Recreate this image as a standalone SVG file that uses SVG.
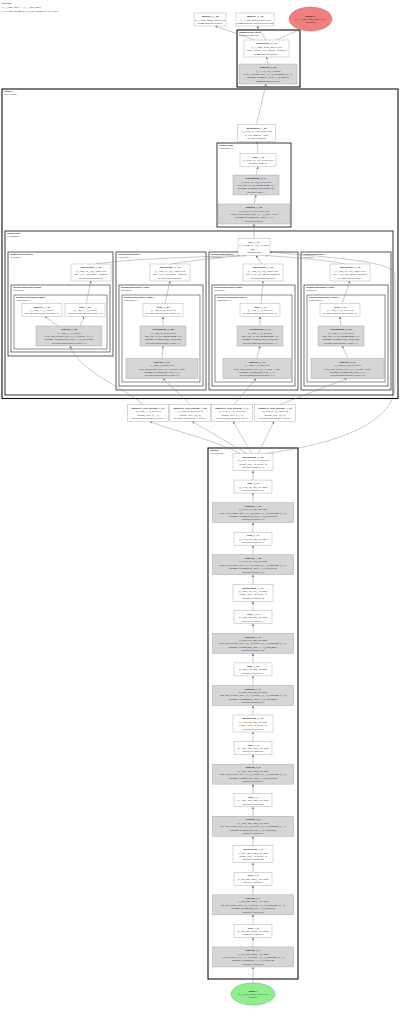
<svg xmlns="http://www.w3.org/2000/svg" width="400" height="1011" viewBox="0 0 400 1011">
<defs>
<marker id="a" viewBox="0 0 6 6" refX="6" refY="3" markerWidth="2.4" markerHeight="2.4" markerUnits="userSpaceOnUse" orient="auto"><path d="M0,0L6,3L0,6z" fill="#6e6e6e"/></marker>
</defs>
<style>
text{font-family:"Liberation Serif","DejaVu Serif",serif;font-size:2.9px;fill:#1a1a1a;text-anchor:middle}
.b{font-weight:bold}
.hd{text-anchor:start;font-size:2.8px}
.w rect{fill:#fff;stroke:#8f8f8f;stroke-width:.35}
.g rect{fill:#d6d6d6;stroke:#8f8f8f;stroke-width:.35}
.cl rect{fill:none}
.cl text{text-anchor:start;font-size:2.6px}
.c1 rect{stroke:#111;stroke-width:1.1}
.c2 rect{stroke:#222;stroke-width:.9}
.c3 rect{stroke:#333;stroke-width:.8}
.c4 rect{stroke:#3a3a3a;stroke-width:.7}
.c5 rect{stroke:#444;stroke-width:.6}
.e path{fill:none;stroke:#7a7a7a;stroke-width:.4;marker-end:url(#a)}
</style>
<rect width="400" height="1011" fill="#fff"/>
<text class="hd" x="2" y="4.2"><tspan class="b">PSPNet</tspan><tspan x="2" dy="3.8">(1, 3, 256, 256) → (1, 1, 256, 256)</tspan><tspan x="2" dy="3.8">9,193,921 params (9,193,921 trainable), 35.1 MB</tspan></text>

<!-- clusters -->
<g id="cluster_segmentation_head" class="cl c1"><rect x="237" y="30" width="63" height="57"/><text x="239" y="33.2"><tspan class="b">segmentation_head</tspan><tspan x="239" dy="3">SegmentationHead</tspan></text></g>
<g id="cluster_decoder" class="cl c1"><rect x="2" y="89" width="396" height="309.5"/><text x="4" y="92.2"><tspan class="b">decoder</tspan><tspan x="4" dy="3">PSPDecoder</tspan></text></g>
<g id="cluster_decoder_conv" class="cl c2"><rect x="217" y="143" width="74" height="84"/><text x="219" y="146.2"><tspan class="b">decoder.conv</tspan><tspan x="219" dy="3">Conv2dReLU</tspan></text></g>
<g id="cluster_decoder_psp" class="cl c2"><rect x="5" y="231" width="388" height="164"/><text x="7" y="234.2"><tspan class="b">decoder.psp</tspan><tspan x="7" dy="3">PSPModule</tspan></text></g>
<g id="cluster_b0" class="cl c3"><rect x="8" y="252" width="105" height="104"/><text x="10" y="255.2"><tspan class="b">decoder.psp.blocks.0</tspan><tspan x="10" dy="3">PSPBlock</tspan></text></g>
<g id="cluster_b1" class="cl c3"><rect x="116" y="252" width="90" height="138"/><text x="118" y="255.2"><tspan class="b">decoder.psp.blocks.1</tspan><tspan x="118" dy="3">PSPBlock</tspan></text></g>
<g id="cluster_b2" class="cl c3"><rect x="209" y="252" width="89" height="138"/><text x="211" y="255.2"><tspan class="b">decoder.psp.blocks.2</tspan><tspan x="211" dy="3">PSPBlock</tspan></text></g>
<g id="cluster_b3" class="cl c3"><rect x="301" y="252" width="90" height="138"/><text x="303" y="255.2"><tspan class="b">decoder.psp.blocks.3</tspan><tspan x="303" dy="3">PSPBlock</tspan></text></g>
<g id="cluster_p0" class="cl c4"><rect x="11" y="285" width="99" height="67"/><text x="13" y="288.2"><tspan class="b">decoder.psp.blocks.0.pool</tspan><tspan x="13" dy="3">Sequential</tspan></text></g>
<g id="cluster_p1" class="cl c4"><rect x="119" y="285" width="84" height="101"/><text x="121" y="288.2"><tspan class="b">decoder.psp.blocks.1.pool</tspan><tspan x="121" dy="3">Sequential</tspan></text></g>
<g id="cluster_p2" class="cl c4"><rect x="212" y="285" width="83" height="101"/><text x="214" y="288.2"><tspan class="b">decoder.psp.blocks.2.pool</tspan><tspan x="214" dy="3">Sequential</tspan></text></g>
<g id="cluster_p3" class="cl c4"><rect x="304" y="285" width="84" height="101"/><text x="306" y="288.2"><tspan class="b">decoder.psp.blocks.3.pool</tspan><tspan x="306" dy="3">Sequential</tspan></text></g>
<g id="cluster_q0" class="cl c5"><rect x="14" y="295" width="93" height="54"/><text x="16" y="298.2"><tspan class="b">decoder.psp.blocks.0.pool.1</tspan><tspan x="16" dy="3">Conv2dReLU</tspan></text></g>
<g id="cluster_q1" class="cl c5"><rect x="122" y="295" width="78" height="87"/><text x="124" y="298.2"><tspan class="b">decoder.psp.blocks.1.pool.1</tspan><tspan x="124" dy="3">Conv2dReLU</tspan></text></g>
<g id="cluster_q2" class="cl c5"><rect x="215" y="295" width="77" height="87"/><text x="217" y="298.2"><tspan class="b">decoder.psp.blocks.2.pool.1</tspan><tspan x="217" dy="3">Conv2dReLU</tspan></text></g>
<g id="cluster_q3" class="cl c5"><rect x="307" y="295" width="78" height="87"/><text x="309" y="298.2"><tspan class="b">decoder.psp.blocks.3.pool.1</tspan><tspan x="309" dy="3">Conv2dReLU</tspan></text></g>
<g id="cluster_encoder" class="cl c1"><rect x="208" y="448" width="90" height="531"/><text x="210" y="451.2"><tspan class="b">encoder</tspan><tspan x="210" dy="3">VGGEncoder</tspan></text></g>

<!-- connectors -->
<g id="edges" class="e">
<path d="M255,40L215,26"/>
<path d="M266,40L257,26"/>
<path d="M276,40L300,29.6"/>
<path d="M268,64L266.5,57"/>
<path d="M256.5,124.5L266,84"/>
<path d="M258,153.5L257,141.5"/>
<path d="M256,175L258,166.5"/>
<path d="M254,204L256,195"/>
<path d="M254,238.5V224"/>
<path d="M95,264C140,258 200,257 240,255.5"/>
<path d="M172,264C200,259 230,257 246,255.5"/>
<path d="M262,264L256,255.5"/>
<path d="M345,264C320,259 285,257 265,255.5"/>
<path d="M86,303.5L91,281"/>
<path d="M58,326L45,316.5"/>
<path d="M80,326L84,316.5"/>
<path d="M165,303.5L170,281"/>
<path d="M163,326V316.5"/>
<path d="M162,358.5L163,346"/>
<path d="M261,303.5L263,281"/>
<path d="M260,326V316.5"/>
<path d="M257,358.5L260,346"/>
<path d="M342,303.5L350,281"/>
<path d="M341,326L340,316.5"/>
<path d="M348,358.5L342,346"/>
<path d="M143,404.5C120,385 80,372 70,346"/>
<path d="M190,404.5L163,378.5"/>
<path d="M234,404.5L256,378.5"/>
<path d="M280,404.5L347,378.5"/>
<path d="M240,453.5C215,440 170,430 150,421.5"/>
<path d="M247,453.5L192,421.5"/>
<path d="M252,453.5L233,421.5"/>
<path d="M258,453.5L274,421.5"/>
<path d="M266,453.5C330,445 395,425 395,385L395,275C395,260 320,257 270,252"/>
<path d="M253,480.05V470.5"/>
<path d="M253,502.6V493.05"/>
<path d="M253,532.15V522.6"/>
<path d="M253,554.7V545.15"/>
<path d="M253,584.25V574.7"/>
<path d="M253,610.8V601.25"/>
<path d="M253,633.35V623.8"/>
<path d="M253,662.9V653.35"/>
<path d="M253,685.45V675.9"/>
<path d="M253,715V705.45"/>
<path d="M253,741.55V732"/>
<path d="M253,764.1V754.55"/>
<path d="M253,793.65V784.1"/>
<path d="M253,816.2V806.65"/>
<path d="M253,845.75V836.2"/>
<path d="M253,872.3V862.75"/>
<path d="M253,894.85V885.3"/>
<path d="M253,924.4V914.85"/>
<path d="M253,946.95V937.4"/>
<path d="M253,983V966.95"/>
</g>

<!-- top nodes -->
<g id="identity_1_48" class="w"><rect x="194" y="13" width="32" height="13"/><text x="210" y="17.1"><tspan class="b">identity_1_48</tspan><tspan x="210" dy="3.4">(1, 1, 256, 256), 256.0 KB</tspan><tspan x="210" dy="3.4">segmentation_head.2</tspan></text></g>
<g id="identity_1_49" class="w"><rect x="236" y="13" width="38" height="13"/><text x="255" y="17.1"><tspan class="b">identity_1_49</tspan><tspan x="255" dy="3.4">(1, 1, 256, 256), 256.0 KB</tspan><tspan x="255" dy="3.4">segmentation_head.2.activation</tspan></text></g>
<g id="output-1"><ellipse cx="310.5" cy="19" rx="21.5" ry="12" fill="#f08080" stroke="#c05050" stroke-width=".4"/><text x="310.5" y="16.6"><tspan class="b">output-1</tspan><tspan x="310.5" dy="3.4">(1, 1, 256, 256), 256.0 KB</tspan><tspan x="310.5" dy="3.4">(output)</tspan></text></g>
<g id="interpolate_1_47" class="w"><rect x="244" y="40" width="45" height="17"/><text x="266.5" y="44.4"><tspan class="b">interpolate_1_47</tspan><tspan x="266.5" dy="3.4">(1, 1, 256, 256), 256.0 KB</tspan><tspan x="266.5" dy="3.4">scale_factor=16.0, mode=bilinear</tspan><tspan x="266.5" dy="3.4">segmentation_head.1</tspan></text></g>
<g id="conv2d_1_46" class="g"><rect x="239" y="64" width="58" height="20"/><text x="268" y="68.2"><tspan class="b">conv2d_1_46</tspan><tspan x="268" dy="3.4">(1, 1, 16, 16), 1.0 KB</tspan><tspan x="268" dy="3.4">512, 1, kernel_size=(3, 3), padding=(1, 1)</tspan><tspan x="268" dy="3.4">params: weight(1, 512, 3, 3), bias(1)</tspan><tspan x="268" dy="3.4">segmentation_head.0</tspan></text></g>

<!-- decoder nodes -->
<g id="dropout2d_1_45" class="w"><rect x="237.5" y="124.5" width="38" height="17"/><text x="256.5" y="128.9"><tspan class="b">dropout2d_1_45</tspan><tspan x="256.5" dy="3.4">(1, 512, 16, 16), 512.0 KB</tspan><tspan x="256.5" dy="3.4">p=0.2, inplace=True</tspan><tspan x="256.5" dy="3.4">decoder.dropout</tspan></text></g>
<g id="relu_1_44" class="w"><rect x="240" y="153.5" width="36" height="13"/><text x="258" y="157.6"><tspan class="b">relu_1_44</tspan><tspan x="258" dy="3.4">(1, 512, 16, 16), 512.0 KB</tspan><tspan x="258" dy="3.4">decoder.conv.2</tspan></text></g>
<g id="batchnorm_1_43" class="g"><rect x="233" y="175" width="46" height="20"/><text x="256" y="179.2"><tspan class="b">batchnorm_1_43</tspan><tspan x="256" dy="3.4">(1, 512, 16, 16), 512.0 KB</tspan><tspan x="256" dy="3.4">512, eps=1e-05, momentum=0.1</tspan><tspan x="256" dy="3.4">params: weight(512), bias(512)</tspan><tspan x="256" dy="3.4">decoder.conv.1</tspan></text></g>
<g id="conv2d_1_42" class="g"><rect x="218" y="204" width="72" height="20"/><text x="254" y="208.2"><tspan class="b">conv2d_1_42</tspan><tspan x="254" dy="3.4">(1, 512, 16, 16), 512.0 KB</tspan><tspan x="254" dy="3.4">1024, 512, kernel_size=(1, 1), bias=False</tspan><tspan x="254" dy="3.4">params: weight(512, 1024, 1, 1)</tspan><tspan x="254" dy="3.4">decoder.conv.0</tspan></text></g>
<g id="cat_1_41" class="w"><rect x="238" y="238.5" width="32" height="17"/><text x="254" y="242.9"><tspan class="b">cat_1_41</tspan><tspan x="254" dy="3.4">(1, 1024, 16, 16), 1.0 MB</tspan><tspan x="254" dy="3.4">dim=1</tspan><tspan x="254" dy="3.4">decoder.psp</tspan></text></g>

<!-- interpolates -->
<g id="interpolate_1_25" class="w"><rect x="71" y="264" width="40" height="17"/><text x="91" y="268.4"><tspan class="b">interpolate_1_25</tspan><tspan x="91" dy="3.4">(1, 128, 16, 16), 128.0 KB</tspan><tspan x="91" dy="3.4">size=(16, 16), mode=bilinear</tspan><tspan x="91" dy="3.4">decoder.psp.blocks.0</tspan></text></g>
<g id="interpolate_1_30" class="w"><rect x="150" y="264" width="40" height="17"/><text x="170" y="268.4"><tspan class="b">interpolate_1_30</tspan><tspan x="170" dy="3.4">(1, 128, 16, 16), 128.0 KB</tspan><tspan x="170" dy="3.4">size=(16, 16), mode=bilinear</tspan><tspan x="170" dy="3.4">decoder.psp.blocks.1</tspan></text></g>
<g id="interpolate_1_35" class="w"><rect x="243" y="264" width="40" height="17"/><text x="263" y="268.4"><tspan class="b">interpolate_1_35</tspan><tspan x="263" dy="3.4">(1, 128, 16, 16), 128.0 KB</tspan><tspan x="263" dy="3.4">size=(16, 16), mode=bilinear</tspan><tspan x="263" dy="3.4">decoder.psp.blocks.2</tspan></text></g>
<g id="interpolate_1_40" class="w"><rect x="330" y="264" width="40" height="17"/><text x="350" y="268.4"><tspan class="b">interpolate_1_40</tspan><tspan x="350" dy="3.4">(1, 128, 16, 16), 128.0 KB</tspan><tspan x="350" dy="3.4">size=(16, 16), mode=bilinear</tspan><tspan x="350" dy="3.4">decoder.psp.blocks.3</tspan></text></g>

<!-- relu row -->
<g id="identity_1_23" class="w"><rect x="22" y="303.5" width="40" height="13"/><text x="42" y="307.6"><tspan class="b">identity_1_23</tspan><tspan x="42" dy="3.4">(1, 128, 1, 1), 512 B</tspan><tspan x="42" dy="3.4">decoder.psp.blocks.0.pool.1.1</tspan></text></g>
<g id="relu_1_24" class="w"><rect x="65" y="303.5" width="40" height="13"/><text x="85" y="307.6"><tspan class="b">relu_1_24</tspan><tspan x="85" dy="3.4">(1, 128, 1, 1), 512 B</tspan><tspan x="85" dy="3.4">decoder.psp.blocks.0.pool.1.2</tspan></text></g>
<g id="relu_1_29" class="w"><rect x="143" y="303.5" width="40" height="13"/><text x="163" y="307.6"><tspan class="b">relu_1_29</tspan><tspan x="163" dy="3.4">(1, 128, 2, 2), 2.0 KB</tspan><tspan x="163" dy="3.4">decoder.psp.blocks.1.pool.1.2</tspan></text></g>
<g id="relu_1_34" class="w"><rect x="240" y="303.5" width="40" height="13"/><text x="260" y="307.6"><tspan class="b">relu_1_34</tspan><tspan x="260" dy="3.4">(1, 128, 3, 3), 4.5 KB</tspan><tspan x="260" dy="3.4">decoder.psp.blocks.2.pool.1.2</tspan></text></g>
<g id="relu_1_39" class="w"><rect x="320" y="303.5" width="40" height="13"/><text x="340" y="307.6"><tspan class="b">relu_1_39</tspan><tspan x="340" dy="3.4">(1, 128, 6, 6), 18.0 KB</tspan><tspan x="340" dy="3.4">decoder.psp.blocks.3.pool.1.2</tspan></text></g>

<!-- bn row -->
<g id="conv2d_1_22" class="g"><rect x="36" y="326" width="66" height="20"/><text x="69" y="330.2"><tspan class="b">conv2d_1_22</tspan><tspan x="69" dy="3.4">(1, 128, 1, 1), 512 B</tspan><tspan x="69" dy="3.4">512, 128, kernel_size=(1, 1), stride=(1, 1)</tspan><tspan x="69" dy="3.4">params: weight(128, 512, 1, 1), bias(128)</tspan><tspan x="69" dy="3.4">decoder.psp.blocks.0.pool.1.0</tspan></text></g>
<g id="batchnorm_1_28" class="g"><rect x="140" y="326" width="46" height="20"/><text x="163" y="330.2"><tspan class="b">batchnorm_1_28</tspan><tspan x="163" dy="3.4">(1, 128, 2, 2), 2.0 KB</tspan><tspan x="163" dy="3.4">128, eps=1e-05, momentum=0.1</tspan><tspan x="163" dy="3.4">params: weight(128), bias(128)</tspan><tspan x="163" dy="3.4">decoder.psp.blocks.1.pool.1.1</tspan></text></g>
<g id="batchnorm_1_33" class="g"><rect x="237" y="326" width="46" height="20"/><text x="260" y="330.2"><tspan class="b">batchnorm_1_33</tspan><tspan x="260" dy="3.4">(1, 128, 3, 3), 4.5 KB</tspan><tspan x="260" dy="3.4">128, eps=1e-05, momentum=0.1</tspan><tspan x="260" dy="3.4">params: weight(128), bias(128)</tspan><tspan x="260" dy="3.4">decoder.psp.blocks.2.pool.1.1</tspan></text></g>
<g id="batchnorm_1_38" class="g"><rect x="318" y="326" width="46" height="20"/><text x="341" y="330.2"><tspan class="b">batchnorm_1_38</tspan><tspan x="341" dy="3.4">(1, 128, 6, 6), 18.0 KB</tspan><tspan x="341" dy="3.4">128, eps=1e-05, momentum=0.1</tspan><tspan x="341" dy="3.4">params: weight(128), bias(128)</tspan><tspan x="341" dy="3.4">decoder.psp.blocks.3.pool.1.1</tspan></text></g>

<!-- conv row -->
<g id="conv2d_1_27" class="g"><rect x="126" y="358.5" width="72" height="20"/><text x="162" y="362.7"><tspan class="b">conv2d_1_27</tspan><tspan x="162" dy="3.4">(1, 128, 2, 2), 2.0 KB</tspan><tspan x="162" dy="3.4">512, 128, kernel_size=(1, 1), bias=False</tspan><tspan x="162" dy="3.4">params: weight(128, 512, 1, 1)</tspan><tspan x="162" dy="3.4">decoder.psp.blocks.1.pool.1.0</tspan></text></g>
<g id="conv2d_1_32" class="g"><rect x="223" y="358.5" width="68" height="20"/><text x="257" y="362.7"><tspan class="b">conv2d_1_32</tspan><tspan x="257" dy="3.4">(1, 128, 3, 3), 4.5 KB</tspan><tspan x="257" dy="3.4">512, 128, kernel_size=(1, 1), bias=False</tspan><tspan x="257" dy="3.4">params: weight(128, 512, 1, 1)</tspan><tspan x="257" dy="3.4">decoder.psp.blocks.2.pool.1.0</tspan></text></g>
<g id="conv2d_1_37" class="g"><rect x="311" y="358.5" width="73" height="20"/><text x="347.5" y="362.7"><tspan class="b">conv2d_1_37</tspan><tspan x="347.5" dy="3.4">(1, 128, 6, 6), 18.0 KB</tspan><tspan x="347.5" dy="3.4">512, 128, kernel_size=(1, 1), bias=False</tspan><tspan x="347.5" dy="3.4">params: weight(128, 512, 1, 1)</tspan><tspan x="347.5" dy="3.4">decoder.psp.blocks.3.pool.1.0</tspan></text></g>

<!-- adaptive pools -->
<g id="adaptive_avg_pool2d_1_21" class="w"><rect x="127.5" y="404.5" width="41" height="17"/><text x="148" y="408.9"><tspan class="b">adaptive_avg_pool2d_1_21</tspan><tspan x="148" dy="3.4">(1, 512, 1, 1), 2.0 KB</tspan><tspan x="148" dy="3.4">output_size=(1, 1)</tspan><tspan x="148" dy="3.4">decoder.psp.blocks.0.pool.0</tspan></text></g>
<g id="adaptive_avg_pool2d_1_26" class="w"><rect x="169.5" y="404.5" width="41" height="17"/><text x="190" y="408.9"><tspan class="b">adaptive_avg_pool2d_1_26</tspan><tspan x="190" dy="3.4">(1, 512, 2, 2), 8.0 KB</tspan><tspan x="190" dy="3.4">output_size=(2, 2)</tspan><tspan x="190" dy="3.4">decoder.psp.blocks.1.pool.0</tspan></text></g>
<g id="adaptive_avg_pool2d_1_31" class="w"><rect x="211.5" y="404.5" width="41" height="17"/><text x="232" y="408.9"><tspan class="b">adaptive_avg_pool2d_1_31</tspan><tspan x="232" dy="3.4">(1, 512, 3, 3), 18.0 KB</tspan><tspan x="232" dy="3.4">output_size=(3, 3)</tspan><tspan x="232" dy="3.4">decoder.psp.blocks.2.pool.0</tspan></text></g>
<g id="adaptive_avg_pool2d_1_36" class="w"><rect x="254.5" y="404.5" width="41" height="17"/><text x="275" y="408.9"><tspan class="b">adaptive_avg_pool2d_1_36</tspan><tspan x="275" dy="3.4">(1, 512, 6, 6), 72.0 KB</tspan><tspan x="275" dy="3.4">output_size=(6, 6)</tspan><tspan x="275" dy="3.4">decoder.psp.blocks.3.pool.0</tspan></text></g>

<!-- encoder nodes -->
<g id="maxpool2d_1_20" class="w"><rect x="233" y="453.5" width="40" height="17"/><text x="253" y="457.9"><tspan class="b">maxpool2d_1_20</tspan><tspan x="253" dy="3.4">(1, 512, 16, 16), 512.0 KB</tspan><tspan x="253" dy="3.4">kernel_size=2, stride=2</tspan><tspan x="253" dy="3.4">encoder.features.19</tspan></text></g>
<g id="relu_1_19" class="w"><rect x="234" y="480.05" width="38" height="13"/><text x="253" y="484.15"><tspan class="b">relu_1_19</tspan><tspan x="253" dy="3.4">(1, 512, 32, 32), 2.0 MB</tspan><tspan x="253" dy="3.4">encoder.features.18</tspan></text></g>
<g id="conv2d_1_18" class="g"><rect x="212.5" y="502.6" width="81" height="20"/><text x="253" y="506.8"><tspan class="b">conv2d_1_18</tspan><tspan x="253" dy="3.4">(1, 512, 32, 32), 2.0 MB</tspan><tspan x="253" dy="3.4">512, 512, kernel_size=(3, 3), stride=(1, 1), padding=(1, 1)</tspan><tspan x="253" dy="3.4">params: weight(512, 512, 3, 3), bias(512)</tspan><tspan x="253" dy="3.4">encoder.features.17</tspan></text></g>
<g id="relu_1_17" class="w"><rect x="234" y="532.15" width="38" height="13"/><text x="253" y="536.25"><tspan class="b">relu_1_17</tspan><tspan x="253" dy="3.4">(1, 512, 32, 32), 2.0 MB</tspan><tspan x="253" dy="3.4">encoder.features.16</tspan></text></g>
<g id="conv2d_1_16" class="g"><rect x="212.5" y="554.7" width="81" height="20"/><text x="253" y="558.9"><tspan class="b">conv2d_1_16</tspan><tspan x="253" dy="3.4">(1, 512, 32, 32), 2.0 MB</tspan><tspan x="253" dy="3.4">256, 512, kernel_size=(3, 3), stride=(1, 1), padding=(1, 1)</tspan><tspan x="253" dy="3.4">params: weight(512, 256, 3, 3), bias(512)</tspan><tspan x="253" dy="3.4">encoder.features.15</tspan></text></g>
<g id="maxpool2d_1_15" class="w"><rect x="233" y="584.25" width="40" height="17"/><text x="253" y="588.65"><tspan class="b">maxpool2d_1_15</tspan><tspan x="253" dy="3.4">(1, 256, 32, 32), 1.0 MB</tspan><tspan x="253" dy="3.4">kernel_size=2, stride=2</tspan><tspan x="253" dy="3.4">encoder.features.14</tspan></text></g>
<g id="relu_1_14" class="w"><rect x="234" y="610.8" width="38" height="13"/><text x="253" y="614.9"><tspan class="b">relu_1_14</tspan><tspan x="253" dy="3.4">(1, 256, 64, 64), 4.0 MB</tspan><tspan x="253" dy="3.4">encoder.features.13</tspan></text></g>
<g id="conv2d_1_13" class="g"><rect x="212.5" y="633.35" width="81" height="20"/><text x="253" y="637.55"><tspan class="b">conv2d_1_13</tspan><tspan x="253" dy="3.4">(1, 256, 64, 64), 4.0 MB</tspan><tspan x="253" dy="3.4">256, 256, kernel_size=(3, 3), stride=(1, 1), padding=(1, 1)</tspan><tspan x="253" dy="3.4">params: weight(256, 256, 3, 3), bias(256)</tspan><tspan x="253" dy="3.4">encoder.features.12</tspan></text></g>
<g id="relu_1_12" class="w"><rect x="234" y="662.9" width="38" height="13"/><text x="253" y="667"><tspan class="b">relu_1_12</tspan><tspan x="253" dy="3.4">(1, 256, 64, 64), 4.0 MB</tspan><tspan x="253" dy="3.4">encoder.features.11</tspan></text></g>
<g id="conv2d_1_11" class="g"><rect x="212.5" y="685.45" width="81" height="20"/><text x="253" y="689.65"><tspan class="b">conv2d_1_11</tspan><tspan x="253" dy="3.4">(1, 256, 64, 64), 4.0 MB</tspan><tspan x="253" dy="3.4">128, 256, kernel_size=(3, 3), stride=(1, 1), padding=(1, 1)</tspan><tspan x="253" dy="3.4">params: weight(256, 128, 3, 3), bias(256)</tspan><tspan x="253" dy="3.4">encoder.features.10</tspan></text></g>
<g id="maxpool2d_1_10" class="w"><rect x="233" y="715" width="40" height="17"/><text x="253" y="719.4"><tspan class="b">maxpool2d_1_10</tspan><tspan x="253" dy="3.4">(1, 128, 64, 64), 2.0 MB</tspan><tspan x="253" dy="3.4">kernel_size=2, stride=2</tspan><tspan x="253" dy="3.4">encoder.features.9</tspan></text></g>
<g id="relu_1_9" class="w"><rect x="234" y="741.55" width="38" height="13"/><text x="253" y="745.65"><tspan class="b">relu_1_9</tspan><tspan x="253" dy="3.4">(1, 128, 128, 128), 8.0 MB</tspan><tspan x="253" dy="3.4">encoder.features.8</tspan></text></g>
<g id="conv2d_1_8" class="g"><rect x="212.5" y="764.1" width="81" height="20"/><text x="253" y="768.3"><tspan class="b">conv2d_1_8</tspan><tspan x="253" dy="3.4">(1, 128, 128, 128), 8.0 MB</tspan><tspan x="253" dy="3.4">128, 128, kernel_size=(3, 3), stride=(1, 1), padding=(1, 1)</tspan><tspan x="253" dy="3.4">params: weight(128, 128, 3, 3), bias(128)</tspan><tspan x="253" dy="3.4">encoder.features.7</tspan></text></g>
<g id="relu_1_7" class="w"><rect x="234" y="793.65" width="38" height="13"/><text x="253" y="797.75"><tspan class="b">relu_1_7</tspan><tspan x="253" dy="3.4">(1, 128, 128, 128), 8.0 MB</tspan><tspan x="253" dy="3.4">encoder.features.6</tspan></text></g>
<g id="conv2d_1_6" class="g"><rect x="212.5" y="816.2" width="81" height="20"/><text x="253" y="820.4"><tspan class="b">conv2d_1_6</tspan><tspan x="253" dy="3.4">(1, 128, 128, 128), 8.0 MB</tspan><tspan x="253" dy="3.4">64, 128, kernel_size=(3, 3), stride=(1, 1), padding=(1, 1)</tspan><tspan x="253" dy="3.4">params: weight(128, 64, 3, 3), bias(128)</tspan><tspan x="253" dy="3.4">encoder.features.5</tspan></text></g>
<g id="maxpool2d_1_5" class="w"><rect x="233" y="845.75" width="40" height="17"/><text x="253" y="850.15"><tspan class="b">maxpool2d_1_5</tspan><tspan x="253" dy="3.4">(1, 64, 128, 128), 4.0 MB</tspan><tspan x="253" dy="3.4">kernel_size=2, stride=2</tspan><tspan x="253" dy="3.4">encoder.features.4</tspan></text></g>
<g id="relu_1_4" class="w"><rect x="234" y="872.3" width="38" height="13"/><text x="253" y="876.4"><tspan class="b">relu_1_4</tspan><tspan x="253" dy="3.4">(1, 64, 256, 256), 16.0 MB</tspan><tspan x="253" dy="3.4">encoder.features.3</tspan></text></g>
<g id="conv2d_1_3" class="g"><rect x="212.5" y="894.85" width="81" height="20"/><text x="253" y="899.05"><tspan class="b">conv2d_1_3</tspan><tspan x="253" dy="3.4">(1, 64, 256, 256), 16.0 MB</tspan><tspan x="253" dy="3.4">64, 64, kernel_size=(3, 3), stride=(1, 1), padding=(1, 1)</tspan><tspan x="253" dy="3.4">params: weight(64, 64, 3, 3), bias(64)</tspan><tspan x="253" dy="3.4">encoder.features.2</tspan></text></g>
<g id="relu_1_2" class="w"><rect x="234" y="924.4" width="38" height="13"/><text x="253" y="928.5"><tspan class="b">relu_1_2</tspan><tspan x="253" dy="3.4">(1, 64, 256, 256), 16.0 MB</tspan><tspan x="253" dy="3.4">encoder.features.1</tspan></text></g>
<g id="conv2d_1_1" class="g"><rect x="212.5" y="946.95" width="81" height="20"/><text x="253" y="951.15"><tspan class="b">conv2d_1_1</tspan><tspan x="253" dy="3.4">(1, 64, 256, 256), 16.0 MB</tspan><tspan x="253" dy="3.4">3, 64, kernel_size=(3, 3), stride=(1, 1), padding=(1, 1)</tspan><tspan x="253" dy="3.4">params: weight(64, 3, 3, 3), bias(64)</tspan><tspan x="253" dy="3.4">encoder.features.0</tspan></text></g>
<g id="input-1"><ellipse cx="253" cy="994" rx="22" ry="11" fill="#90ee90" stroke="#50a050" stroke-width=".4"/><text x="253" y="991.6"><tspan class="b">input-1</tspan><tspan x="253" dy="3.4">(1, 3, 256, 256), 768.0 KB</tspan><tspan x="253" dy="3.4">(input)</tspan></text></g>
</svg>
